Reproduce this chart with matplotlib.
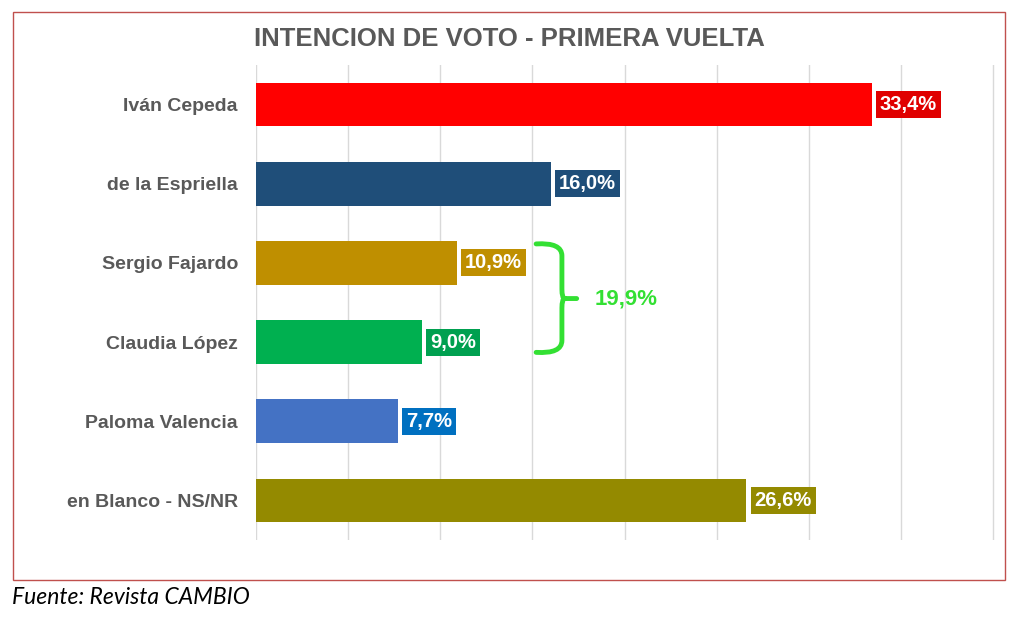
import matplotlib
matplotlib.use("Agg")
import matplotlib.pyplot as plt
from matplotlib.path import Path
from matplotlib.patches import PathPatch, Rectangle

categories = ["Iván Cepeda", "de la Espriella", "Sergio Fajardo", "Claudia López",
              "Paloma Valencia", "en Blanco - NS/NR"]
values = [33.4, 16.0, 10.9, 9.0, 7.7, 26.6]
value_labels = ["33,4%", "16,0%", "10,9%", "9,0%", "7,7%", "26,6%"]
bar_colors = ["#FF0000", "#1F4E79", "#BF8F00", "#00B050", "#4472C4", "#948A00"]
label_colors = ["#E00000", "#1F4E79", "#BF8F00", "#00A050", "#0070C0", "#948A00"]
group_label = "19,9%"
title = "INTENCION DE VOTO - PRIMERA VUELTA"
source = "Fuente: Revista CAMBIO"

W, H = 1024, 619
fig = plt.figure(figsize=(W / 100, H / 100), dpi=100)
ax = fig.add_axes([256 / W, 1 - 540 / H, (995 - 256) / W, (540 - 65) / H])

ypos = list(range(len(categories)))
ax.barh(ypos, values, height=0.55, color=bar_colors, zorder=2)
ax.set_xlim(0, 40.1)
ax.set_ylim(5.5, -0.5)
ax.set_xticks(range(0, 41, 5))
ax.xaxis.grid(True, color="#D9D9D9", lw=1, zorder=0)
ax.set_axisbelow(True)
ax.tick_params(axis="x", length=0, labelbottom=False)
ax.tick_params(axis="y", length=0, pad=13)
for s in ax.spines.values():
    s.set_visible(False)
ax.set_yticks(ypos)
ax.set_yticklabels(categories, fontsize=14, fontweight="bold", color="#595959",
                   family="Liberation Sans")

for i, (v, lab, c) in enumerate(zip(values, value_labels, label_colors)):
    ax.annotate(lab, (v, i), xytext=(6, 0), textcoords="offset points",
                ha="left", va="center", color="white", fontsize=14.5,
                fontweight="bold", family="Liberation Sans",
                bbox=dict(boxstyle="square,pad=0.2", fc=c, ec="none"), zorder=4)

# bracket around Fajardo + López
green = "#33E033"
x0, x1, xt = 15.2, 16.6, 17.4
yt, ym, yb = 1.76, 2.45, 3.13
verts = [(x0, yt), (x1, yt - 0.02), (x1, yt + 0.15),
         (x1, ym - 0.12), (x1, ym), (x1 + 0.15, ym),
         (xt, ym),
         (x1 + 0.15, ym), (x1, ym), (x1, ym + 0.12),
         (x1, yb - 0.15), (x1, yb + 0.02), (x0, yb)]
codes = [Path.MOVETO, Path.CURVE3, Path.CURVE3,
         Path.LINETO, Path.CURVE3, Path.CURVE3,
         Path.LINETO,
         Path.MOVETO, Path.CURVE3, Path.CURVE3,
         Path.LINETO, Path.CURVE3, Path.CURVE3]
ax.add_patch(PathPatch(Path(verts, codes), fc="none", ec=green, lw=3.5,
                       capstyle="round", joinstyle="round", zorder=3))
ax.text(18.4, ym, group_label, ha="left", va="center", color=green,
        fontsize=16, fontweight="bold", family="Liberation Sans")

fig.text(509.5 / W, 1 - 39 / H, title, ha="center", va="center", fontsize=18.5,
         fontweight="bold", color="#595959", family="Liberation Sans")

fig.add_artist(Rectangle((13 / W, 1 - 580 / H), (1005 - 13) / W, (580 - 12) / H,
                         transform=fig.transFigure, fill=False, ec="#C0504D", lw=1))

fig.text(12 / W, 1 - 597 / H, source, ha="left", va="center", fontsize=16.5,
         style="italic", family="Lato", color="black")

fig.savefig("out.png", dpi=100)
